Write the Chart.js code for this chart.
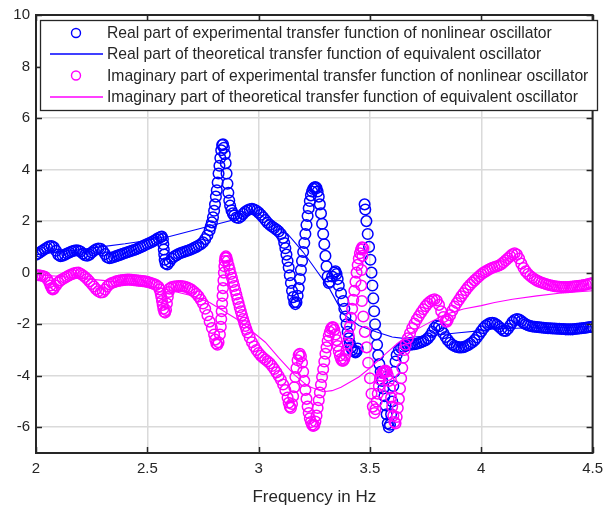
<!DOCTYPE html>
<html>
<head>
<meta charset="utf-8">
<script src="https://cdn.jsdelivr.net/npm/chart.js@4.4.1/dist/chart.umd.min.js"></script>
<style>
  html, body { margin: 0; padding: 0; background: #fff; }
  #wrap { width: 610px; height: 516px; }
</style>
</head>
<body>
<div id="wrap"><canvas id="chart" width="610" height="516"></canvas></div>
<script>
// ── axis ticks ──
const xTicks = [2, 2.5, 3, 3.5, 4, 4.5];
const yTicks = [-6, -4, -2, 0, 2, 4, 6, 8, 10];

const seriesLabels = [
  'Real part of experimental transfer function of nonlinear oscillator',
  'Real part of theoretical transfer function of equivalent oscillator',
  'Imaginary part of experimental transfer function of nonlinear oscillator',
  'Imaginary part of theoretical transfer function of equivalent oscillator',
];

// ── real part, measured (frequency, value) ──
const realExp = [
  [2.00,0.70],[2.01,0.74],[2.02,0.80],[2.03,0.86],[2.04,0.92],[2.05,0.97],[2.06,1.02],[2.07,1.03],[2.08,0.98],[2.09,0.85],
  [2.10,0.70],[2.11,0.64],[2.12,0.66],[2.13,0.70],[2.14,0.74],[2.15,0.78],[2.16,0.82],[2.17,0.85],[2.18,0.87],[2.19,0.86],
  [2.20,0.82],[2.21,0.74],[2.22,0.68],[2.23,0.66],[2.24,0.70],[2.25,0.78],[2.26,0.85],[2.27,0.91],[2.28,0.94],[2.29,0.93],
  [2.30,0.85],[2.31,0.72],[2.32,0.60],[2.33,0.56],[2.34,0.58],[2.35,0.61],[2.36,0.64],[2.37,0.67],[2.38,0.70],[2.39,0.73],
  [2.40,0.76],[2.41,0.79],[2.42,0.82],[2.43,0.85],[2.44,0.88],[2.45,0.91],[2.46,0.95],[2.47,0.99],[2.48,1.03],[2.49,1.07],
  [2.50,1.11],[2.51,1.15],[2.52,1.19],[2.53,1.24],[2.54,1.29],[2.55,1.34],[2.56,1.38],[2.565,1.40],[2.57,1.30],[2.572,1.10],
  [2.574,0.90],[2.576,0.70],[2.578,0.50],[2.582,0.36],[2.59,0.32],[2.60,0.42],[2.61,0.55],[2.62,0.62],[2.63,0.67],[2.64,0.72],
  [2.65,0.76],[2.66,0.79],[2.67,0.82],[2.68,0.85],[2.69,0.88],[2.70,0.92],[2.71,0.96],[2.72,1.00],[2.73,1.05],[2.74,1.10],
  [2.75,1.18],[2.76,1.30],[2.77,1.45],[2.78,1.65],[2.785,1.80],[2.79,1.95],[2.795,2.15],[2.80,2.40],[2.804,2.65],[2.808,2.95],
  [2.812,3.20],[2.816,3.50],[2.820,3.85],[2.824,4.15],[2.828,4.45],[2.832,4.75],[2.836,4.95],[2.840,4.98],[2.844,4.85],[2.848,4.60],
  [2.852,4.25],[2.856,3.85],[2.860,3.45],[2.864,3.10],[2.868,2.80],[2.872,2.60],[2.878,2.42],[2.884,2.30],[2.89,2.22],[2.90,2.14],
  [2.91,2.12],[2.92,2.18],[2.93,2.28],[2.94,2.36],[2.95,2.42],[2.96,2.46],[2.97,2.48],[2.98,2.45],[2.99,2.40],[3.00,2.33],
  [3.01,2.25],[3.02,2.15],[3.03,2.04],[3.04,1.94],[3.05,1.86],[3.06,1.79],[3.07,1.73],[3.08,1.67],[3.09,1.60],[3.10,1.50],
  [3.11,1.35],[3.115,1.15],[3.12,0.95],[3.125,0.70],[3.13,0.45],[3.135,0.20],[3.14,-0.10],[3.145,-0.40],[3.15,-0.70],[3.155,-0.95],
  [3.16,-1.15],[3.165,-1.22],[3.17,-1.15],[3.175,-0.90],[3.18,-0.60],[3.185,-0.25],[3.19,0.10],[3.195,0.45],[3.20,0.80],[3.205,1.15],
  [3.21,1.50],[3.215,1.85],[3.22,2.20],[3.225,2.50],[3.23,2.78],[3.235,3.00],[3.24,3.15],[3.245,3.25],[3.25,3.30],[3.255,3.32],
  [3.26,3.28],[3.265,3.15],[3.27,2.95],[3.275,2.65],[3.28,2.30],[3.285,1.90],[3.29,1.50],[3.295,1.10],[3.30,0.65],[3.305,0.25],
  [3.31,-0.15],[3.315,-0.40],[3.32,-0.35],[3.33,-0.15],[3.34,0.00],[3.345,0.05],[3.35,-0.05],[3.355,-0.25],[3.36,-0.50],[3.37,-0.80],
  [3.38,-1.10],[3.385,-1.40],[3.39,-1.70],[3.395,-2.00],[3.40,-2.30],[3.405,-2.55],[3.41,-2.75],[3.415,-2.90],[3.42,-3.00],[3.43,-3.05],
  [3.435,-3.10],[3.44,-3.05],[3.445,-2.95],
  [3.476,2.65],[3.479,2.45],[3.484,2.00],[3.490,1.50],[3.496,1.00],[3.502,0.50],[3.507,0.00],[3.511,-0.50],[3.515,-1.00],[3.519,-1.50],
  [3.523,-2.00],[3.527,-2.40],[3.532,-2.80],[3.537,-3.20],[3.542,-3.55],[3.548,-3.85],[3.555,-4.20],[3.56,-4.50],[3.565,-4.80],[3.57,-5.15],
  [3.575,-5.50],[3.58,-5.85],[3.585,-6.00],
  [3.59,-5.90],[3.595,-5.50],[3.60,-5.00],[3.605,-4.40],[3.61,-3.85],[3.615,-3.45],[3.62,-3.20],[3.63,-3.00],[3.64,-2.92],[3.65,-2.88],
  [3.66,-2.84],[3.67,-2.82],[3.68,-2.80],[3.69,-2.79],[3.70,-2.78],[3.71,-2.76],[3.72,-2.73],[3.73,-2.70],[3.74,-2.66],[3.75,-2.62],
  [3.76,-2.55],[3.77,-2.45],[3.78,-2.30],[3.79,-2.15],[3.80,-2.05],[3.81,-2.08],[3.82,-2.20],[3.83,-2.35],[3.84,-2.50],[3.85,-2.62],
  [3.86,-2.72],[3.87,-2.80],[3.88,-2.85],[3.89,-2.88],[3.90,-2.90],[3.91,-2.90],[3.92,-2.89],[3.93,-2.86],[3.94,-2.82],[3.95,-2.76],
  [3.96,-2.70],[3.97,-2.62],[3.98,-2.52],[3.99,-2.40],[4.00,-2.28],[4.01,-2.16],[4.02,-2.06],[4.03,-2.00],[4.04,-1.96],[4.05,-1.95],
  [4.06,-1.97],[4.07,-2.02],[4.08,-2.10],[4.09,-2.18],[4.10,-2.25],[4.11,-2.26],[4.12,-2.18],[4.13,-2.05],[4.14,-1.92],[4.15,-1.84],
  [4.16,-1.80],[4.17,-1.82],[4.18,-1.88],[4.19,-1.95],[4.20,-2.00],[4.21,-2.04],[4.22,-2.07],[4.23,-2.09],[4.24,-2.10],[4.25,-2.11],
  [4.26,-2.12],[4.27,-2.13],[4.28,-2.14],[4.29,-2.15],[4.30,-2.16],[4.31,-2.16],[4.32,-2.17],[4.33,-2.17],[4.34,-2.18],[4.35,-2.18],
  [4.36,-2.19],[4.37,-2.19],[4.38,-2.20],[4.39,-2.20],[4.40,-2.20],[4.41,-2.20],[4.42,-2.19],[4.43,-2.18],[4.44,-2.17],[4.45,-2.16],
  [4.46,-2.15],[4.47,-2.14],[4.48,-2.12],[4.49,-2.11],[4.50,-2.10],
];

// ── real part, equivalent oscillator ──
const realTheo = [
  [2.00,0.70],[2.10,0.80],[2.20,0.90],[2.30,1.01],[2.40,1.12],[2.50,1.25],[2.57,1.38],[2.60,1.40],[2.88,2.03],[2.95,2.25],
  [3.00,2.28],[3.05,2.00],[3.10,1.65],[3.13,1.50],[3.20,0.80],[3.25,0.20],[3.32,-0.65],[3.38,-1.60],[3.45,-2.05],[3.53,-2.30],
  [3.60,-2.50],[3.65,-2.55],[3.70,-2.50],[3.80,-2.42],[3.90,-2.33],[4.00,-2.25],[4.06,-2.18],[4.20,-2.15],[4.35,-2.12],[4.50,-2.10],
];

// ── imaginary part, measured ──
const imagExp = [
  [2.00,-0.10],[2.01,-0.10],[2.02,-0.11],[2.03,-0.13],[2.04,-0.16],[2.05,-0.25],[2.06,-0.38],[2.065,-0.50],[2.07,-0.60],[2.075,-0.65],
  [2.08,-0.62],[2.09,-0.50],[2.10,-0.38],[2.11,-0.30],[2.12,-0.25],[2.13,-0.20],[2.14,-0.15],[2.15,-0.10],[2.16,-0.06],[2.17,-0.03],
  [2.18,-0.01],[2.19,0.00],[2.20,-0.04],[2.21,-0.10],[2.22,-0.17],[2.23,-0.25],[2.24,-0.34],[2.25,-0.44],[2.26,-0.54],[2.27,-0.64],
  [2.28,-0.72],[2.29,-0.77],[2.30,-0.76],[2.31,-0.66],[2.32,-0.54],[2.33,-0.45],[2.34,-0.40],[2.35,-0.37],[2.36,-0.34],[2.37,-0.32],
  [2.38,-0.30],[2.39,-0.29],[2.40,-0.28],[2.41,-0.27],[2.42,-0.27],[2.43,-0.28],[2.44,-0.29],[2.45,-0.30],[2.46,-0.31],[2.47,-0.32],
  [2.48,-0.33],[2.49,-0.34],[2.50,-0.36],[2.51,-0.38],[2.52,-0.41],[2.53,-0.44],[2.54,-0.48],[2.55,-0.55],[2.555,-0.65],[2.56,-0.80],
  [2.563,-0.95],[2.566,-1.10],[2.569,-1.25],[2.572,-1.40],[2.576,-1.52],[2.58,-1.55],[2.584,-1.45],[2.588,-1.20],[2.592,-0.95],[2.596,-0.75],
  [2.60,-0.62],[2.61,-0.56],[2.62,-0.54],[2.63,-0.53],[2.64,-0.52],[2.65,-0.52],[2.66,-0.53],[2.67,-0.55],[2.68,-0.58],[2.69,-0.62],
  [2.70,-0.67],[2.71,-0.74],[2.72,-0.82],[2.73,-0.92],[2.74,-1.05],[2.75,-1.20],[2.76,-1.40],[2.77,-1.65],[2.78,-1.90],[2.79,-2.15],
  [2.80,-2.40],[2.805,-2.60],[2.81,-2.75],[2.815,-2.80],[2.82,-2.70],
  [2.826,-2.40],[2.830,-2.10],[2.832,-1.80],[2.834,-1.50],[2.836,-1.20],[2.838,-0.90],[2.840,-0.60],[2.842,-0.30],[2.844,0.00],[2.846,0.25],
  [2.848,0.45],[2.850,0.58],[2.853,0.63],[2.856,0.58],[2.86,0.45],[2.865,0.28],[2.87,0.12],[2.875,-0.05],[2.88,-0.20],[2.885,-0.36],
  [2.89,-0.52],[2.895,-0.68],[2.90,-0.85],[2.905,-1.02],[2.91,-1.18],[2.915,-1.34],[2.92,-1.50],[2.925,-1.65],[2.93,-1.80],[2.935,-1.94],
  [2.94,-2.07],[2.945,-2.20],[2.95,-2.32],[2.96,-2.52],[2.97,-2.70],[2.98,-2.86],[2.99,-3.00],[3.00,-3.12],[3.01,-3.22],[3.02,-3.30],
  [3.03,-3.37],[3.04,-3.44],[3.05,-3.52],[3.06,-3.62],[3.07,-3.74],[3.08,-3.87],[3.09,-4.01],[3.10,-4.16],[3.11,-4.34],[3.12,-4.56],
  [3.13,-4.85],[3.135,-5.05],[3.14,-5.20],[3.145,-5.25],[3.15,-5.10],[3.155,-4.80],[3.16,-4.45],[3.165,-4.05],[3.17,-3.70],[3.175,-3.40],
  [3.18,-3.20],[3.185,-3.15],[3.19,-3.25],[3.195,-3.50],[3.20,-3.85],[3.205,-4.20],[3.21,-4.55],[3.215,-4.90],[3.22,-5.20],[3.225,-5.45],
  [3.23,-5.65],[3.235,-5.80],[3.24,-5.90],[3.245,-5.95],[3.25,-5.92],[3.255,-5.78],[3.26,-5.55],[3.265,-5.25],[3.27,-4.95],[3.275,-4.65],
  [3.28,-4.35],[3.285,-4.05],[3.29,-3.75],[3.295,-3.45],[3.30,-3.15],[3.305,-2.90],[3.31,-2.65],[3.315,-2.45],[3.32,-2.30],[3.325,-2.18],
  [3.33,-2.12],[3.335,-2.12],[3.34,-2.22],[3.345,-2.40],[3.35,-2.62],[3.355,-2.85],[3.36,-3.05],[3.365,-3.22],[3.37,-3.35],[3.375,-3.42],
  [3.38,-3.42],[3.385,-3.35],[3.39,-3.20],[3.395,-3.00],[3.40,-2.75],[3.405,-2.45],[3.41,-2.10],[3.415,-1.75],[3.42,-1.40],[3.425,-1.05],
  [3.43,-0.70],[3.435,-0.35],[3.44,0.00],[3.445,0.30],[3.45,0.55],[3.455,0.75],[3.46,0.90],[3.465,0.98],[3.47,0.95],
  [3.466,0.65],[3.463,0.10],[3.461,-0.50],[3.464,-1.10],[3.470,-1.70],[3.477,-2.30],[3.485,-2.90],[3.492,-3.50],[3.500,-4.10],[3.507,-4.70],
  [3.513,-5.20],[3.52,-5.45],[3.525,-5.30],[3.53,-5.00],[3.535,-4.70],[3.54,-4.40],[3.545,-4.15],[3.55,-4.00],[3.555,-3.90],[3.56,-3.85],
  [3.565,-3.82],[3.57,-3.80],[3.575,-3.85],[3.58,-3.98],[3.585,-4.20],[3.59,-4.50],[3.595,-4.85],[3.60,-5.20],[3.605,-5.55],[3.61,-5.80],
  [3.615,-5.85],[3.62,-5.60],[3.625,-5.25],[3.63,-4.90],[3.635,-4.50],[3.64,-4.10],[3.645,-3.70],[3.65,-3.30],[3.655,-3.00],[3.66,-2.80],
  [3.67,-2.55],[3.68,-2.35],[3.69,-2.15],[3.70,-1.98],[3.71,-1.82],[3.72,-1.68],[3.73,-1.55],[3.74,-1.42],[3.75,-1.30],[3.76,-1.20],
  [3.77,-1.12],[3.78,-1.06],[3.79,-1.03],[3.80,-1.08],[3.81,-1.25],[3.82,-1.50],[3.83,-1.72],[3.84,-1.88],[3.845,-1.90],[3.85,-1.82],
  [3.86,-1.65],[3.87,-1.48],[3.88,-1.32],[3.89,-1.18],[3.90,-1.05],[3.91,-0.92],[3.92,-0.80],[3.93,-0.68],[3.94,-0.57],[3.95,-0.47],
  [3.96,-0.38],[3.97,-0.30],[3.98,-0.22],[3.99,-0.14],[4.00,-0.06],[4.01,0.00],[4.02,0.05],[4.03,0.10],[4.04,0.15],[4.05,0.19],
  [4.06,0.22],[4.07,0.25],[4.08,0.28],[4.09,0.33],[4.10,0.40],[4.11,0.48],[4.12,0.56],[4.13,0.64],[4.14,0.71],[4.15,0.75],
  [4.16,0.70],[4.17,0.55],[4.18,0.35],[4.19,0.18],[4.20,0.05],[4.21,-0.05],[4.22,-0.13],[4.23,-0.20],[4.24,-0.26],[4.25,-0.31],
  [4.26,-0.35],[4.27,-0.38],[4.28,-0.41],[4.29,-0.44],[4.30,-0.47],[4.31,-0.49],[4.32,-0.51],[4.33,-0.53],[4.34,-0.54],[4.35,-0.55],
  [4.36,-0.56],[4.37,-0.56],[4.38,-0.56],[4.39,-0.56],[4.40,-0.55],[4.41,-0.54],[4.42,-0.53],[4.43,-0.52],[4.44,-0.51],[4.45,-0.50],
  [4.46,-0.48],[4.47,-0.47],[4.48,-0.44],[4.49,-0.42],[4.50,-0.40],
];

// ── imaginary part, equivalent oscillator ──
const imagTheo = [
  [2.00,-0.08],[2.10,-0.14],[2.20,-0.22],[2.30,-0.30],[2.40,-0.40],[2.50,-0.50],[2.57,-0.62],[2.60,-0.68],[2.70,-0.90],[2.78,-1.16],
  [2.91,-1.85],[3.03,-2.70],[3.09,-3.30],[3.16,-3.96],[3.22,-4.40],[3.29,-4.62],[3.33,-4.58],[3.37,-4.45],[3.45,-4.05],[3.50,-3.70],
  [3.57,-3.15],[3.63,-2.70],[3.70,-2.25],[3.77,-1.92],[3.84,-1.62],[3.92,-1.41],[4.00,-1.28],[4.06,-1.16],[4.14,-1.03],[4.25,-0.90],
  [4.35,-0.80],[4.50,-0.70],
];

const pts = arr => arr.map(([x, y]) => ({ x, y }));

const INK  = '#262626';
const FONT = '"Liberation Sans", Arial, sans-serif';

// frame, inward tick marks and the boxed legend, MATLAB style
const axesDecor = {
  id: 'axesDecor',
  afterDraw(chart) {
    const { ctx, chartArea: a, scales: { x, y } } = chart;
    ctx.save();
    ctx.strokeStyle = INK;
    ctx.lineWidth = 1.5;
    const seg = (x1, y1, x2, y2) => { ctx.beginPath(); ctx.moveTo(x1, y1); ctx.lineTo(x2, y2); ctx.stroke(); };
    xTicks.forEach(v => {
      const px = Math.round(x.getPixelForValue(v)) + 0.5;
      seg(px, a.bottom, px, a.bottom - 6);
      seg(px, a.top, px, a.top + 6);
    });
    yTicks.forEach(v => {
      const py = Math.round(y.getPixelForValue(v)) + 0.5;
      seg(a.left, py, a.left + 6, py);
      seg(a.right, py, a.right - 6, py);
    });
    ctx.lineWidth = 2;
    ctx.strokeRect(a.left, a.top, a.width, a.height);

    // legend
    const L = { x: 40, y: 20, w: 557, h: 90 };
    ctx.fillStyle = '#fff';
    ctx.fillRect(L.x, L.y, L.w, L.h);
    ctx.lineWidth = 1.3;
    ctx.strokeRect(L.x + 0.5, L.y + 0.5, L.w, L.h);
    const rows = [33, 54, 75.5, 97];
    ctx.font = '15.7px ' + FONT;
    ctx.textBaseline = 'middle';
    chart.data.datasets.forEach((ds, i) => {
      const ry = rows[i];
      ctx.strokeStyle = ds.borderColor;
      if (ds.showLine) {
        ctx.lineWidth = 1.5;
        seg(50, ry, 103, ry);
      } else {
        ctx.lineWidth = 1.4;
        ctx.beginPath(); ctx.arc(76, ry, 4.5, 0, Math.PI * 2); ctx.stroke();
      }
      ctx.fillStyle = INK;
      ctx.fillText(ds.label, 107, ry + 1);
    });
    ctx.restore();
  }
};

const circleSet = (label, data, color, order) => ({
  label, data: pts(data), order,
  showLine: false,
  borderColor: color, backgroundColor: 'rgba(0,0,0,0)',
  pointStyle: 'circle', pointRadius: 5.3, pointBorderWidth: 1.5, pointHoverRadius: 5.3,
});
const lineSet = (label, data, color, order) => ({
  label, data: pts(data), order,
  showLine: true, tension: 0,
  borderColor: color, borderWidth: 1.1, backgroundColor: color,
  pointRadius: 0,
});

new Chart(document.getElementById('chart'), {
  type: 'scatter',
  data: {
    datasets: [
      circleSet(seriesLabels[0], realExp, '#0000ff', 4),
      lineSet(seriesLabels[1], realTheo, '#0000ff', 3),
      circleSet(seriesLabels[2], imagExp, '#ff00ff', 2),
      lineSet(seriesLabels[3], imagTheo, '#ff00ff', 1),
    ]
  },
  options: {
    responsive: false, animation: false, devicePixelRatio: 1,
    layout: { padding: { left: 0, right: 12, top: 8, bottom: 0 } },
    plugins: { legend: { display: false }, tooltip: { enabled: false } },
    scales: {
      x: {
        type: 'linear', min: 2, max: 4.5,
        afterBuildTicks: s => { s.ticks = xTicks.map(value => ({ value })); },
        afterFit: s => { s.height = 63; },
        grid: { color: '#dadada', lineWidth: 1.5, drawTicks: false },
        border: { display: false },
        ticks: { color: INK, font: { family: FONT, size: 15 }, padding: 7, maxRotation: 0,
                 callback: v => String(v) },
        title: { display: true, text: 'Frequency in Hz', color: INK,
                 font: { family: FONT, size: 17 }, padding: { top: 0, bottom: 8 } },
      },
      y: {
        type: 'linear', min: -7, max: 10,
        afterBuildTicks: s => { s.ticks = yTicks.map(value => ({ value })); },
        afterFit: s => { s.width = 36; },
        grid: { color: '#dadada', lineWidth: 1.5, drawTicks: false },
        border: { display: false },
        ticks: { color: INK, font: { family: FONT, size: 15 }, padding: 6,
                 callback: v => String(v) },
      }
    }
  },
  plugins: [axesDecor]
});
</script>
</body>
</html>
